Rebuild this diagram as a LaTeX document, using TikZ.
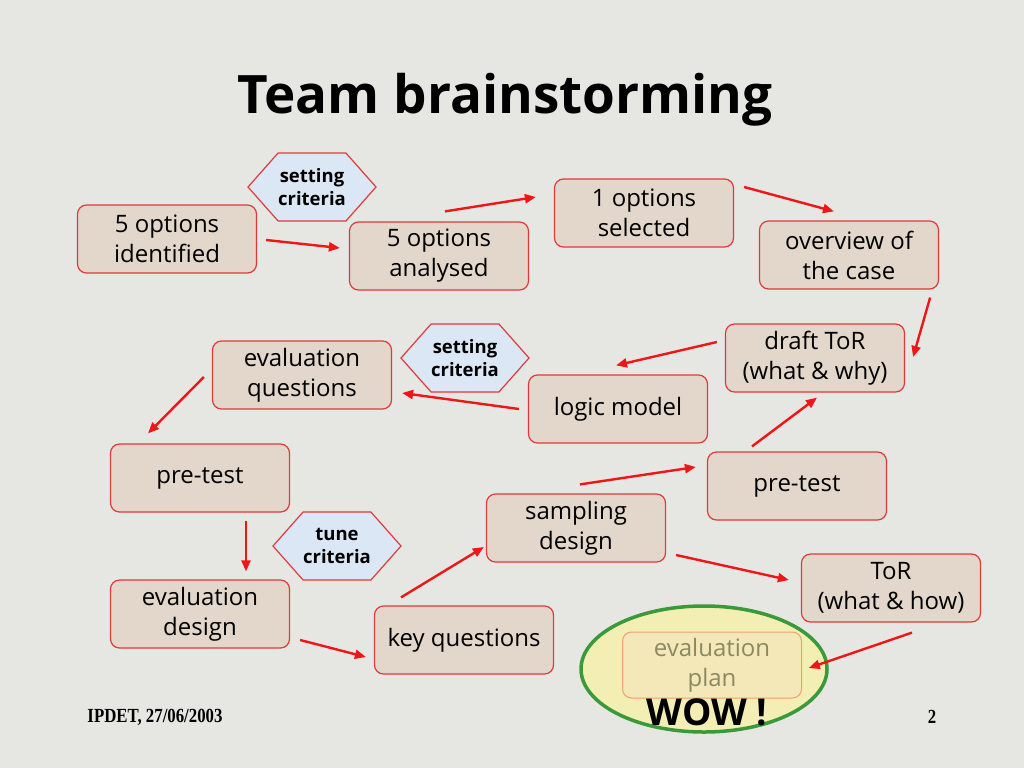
\documentclass[tikz,border=0pt]{standalone}
\usepackage{fontspec}
\setmainfont{Open Sans}
\newfontfamily\footfont{Liberation Serif}
\usetikzlibrary{arrows.meta,calc,shapes.symbols,shapes.geometric}
\definecolor{bg}{HTML}{E6E6E2}
\definecolor{boxline}{HTML}{E03A3A}
\definecolor{boxfill}{HTML}{E2D7CA}
\definecolor{hexfill}{HTML}{DCE7F6}
\definecolor{arrred}{HTML}{EE1616}
\definecolor{ellgreen}{HTML}{3A9A3A}
\definecolor{ellfill}{HTML}{F3EFB4}
\definecolor{planfill}{HTML}{F4E7B8}
\definecolor{planline}{HTML}{F0A070}
\definecolor{plantext}{HTML}{8A8A62}
\begin{document}
\begin{tikzpicture}[x=1pt,y=-1pt,
  box/.style={draw=boxline,fill=boxfill,line width=1.2pt,rounded corners=9pt,
    minimum width=179pt,minimum height=68pt,align=center,inner sep=2pt,
    font=\fontsize{24}{30}\selectfont},
  hexa/.style={signal,signal to=west and east,signal pointer angle=97,
    draw=boxline,fill=hexfill,line width=1.2pt,minimum width=128pt,
    minimum height=68pt,inner sep=0pt,align=center,
    font=\fontsize{18.5}{23}\selectfont\bfseries},
  arr/.style={draw=arrred,line width=2.4pt,-{Triangle[length=11pt,width=9pt]}}]
\fill[bg] (0,0) rectangle (1024,768);
\useasboundingbox (0,0) rectangle (1024,768);

\node[font=\fontsize{53}{58}\selectfont\bfseries] (title) at (505,100) {Team brainstorming};

% hexagons
\node[hexa] (h1) at (312,187) {setting\\criteria};
\node[hexa] (h2) at (465,358) {setting\\criteria};
\node[hexa] (h3) at (337,546) {tune\\criteria};

% boxes
\node[box] (n1) at (167,239) {5 options\\identified};
\node[box] (n2) at (439,256) {5 options\\analysed};
\node[box] (n3) at (644,213) {1 options\\selected};
\node[box] (n4) at (849,255) {overview of\\the case};
\node[box] (n5) at (815,358) {draft ToR\\(what \& why)};
\node[box] (n6) at (618,409) {logic model};
\node[box] (n7) at (302,375) {evaluation\\questions};
\node[box] (n8) at (200,478) {pre-test};
\node[box] (n9) at (797,486) {pre-test};
\node[box] (n10) at (576,528) {sampling\\design};
\node[box] (n11) at (200,614) {evaluation\\design};
\node[box] (n12) at (464,640) {key questions};
\node[box] (n13) at (891,588) {ToR\\(what \& how)};

% evaluation plan
\node[ellipse,draw=ellgreen,line width=3.5pt,fill=ellfill,minimum width=246pt,minimum height=126pt] (ell) at (704,669) {};
\node[box,draw=planline,fill=planfill,line width=1pt,text=plantext,minimum height=66pt] (plan) at (712,665) {evaluation\\plan};
\node[font=\fontsize{37}{40}\selectfont\bfseries] (wow) at (707,712) {WOW !};

% arrows
\draw[arr] ($(n1.east)+(9,1)$) -- ($(n2.west)+(-9,-8)$);
\draw[arr] ($(n2.north)+(6,-10)$) -- ($(n3.west)+(-18,-16)$);
\draw[arr] ($(n3.east)+(10,-26)$) -- ($(n4.north)+(-15,-9)$);
\draw[arr] ($(n4.south east)+(-9,8)$) -- ($(n5.east)+(8,-1)$);
\draw[arr] ($(n5.west)+(-8,-16)$) -- ($(n6.north)+(-2,-9)$);
\draw[arr] ($(n6.west)+(-9,0)$) -- ($(n7.east)+(10,18)$);
\draw[arr] ($(n7.west)+(-8,2)$) -- ($(n8.north)+(-52,-10)$);
\draw[arr] ($(n8.south)+(46,8)$) -- ($(n11.north)+(46,-8)$);
\draw[arr] ($(n11.east)+(10,26)$) -- ($(n12.west)+(-8,17)$);
\draw[arr] ($(n12.north)+(-63,-8)$) -- ($(n10.west)+(-2,19)$);
\draw[arr] ($(n10.north)+(4,-9)$) -- ($(n9.west)+(-11,-19)$);
\draw[arr] ($(n9.north)+(-45,-5)$) -- ($(n5.south)+(2,5)$);
\draw[arr] ($(n10.east)+(10,27)$) -- ($(n13.west)+(-12,-8)$);
\draw[arr] ($(n13.south)+(21,10)$) -- ($(ell.east)+(-20,-1)$);

% footer
\node[font=\footfont\bfseries\fontsize{20}{22}\selectfont] (foot) at (155,717) {\scalebox{0.84}[1]{IPDET, 27/06/2003}};
\node[font=\footfont\bfseries\fontsize{20}{22}\selectfont] (page) at (932,717) {\scalebox{0.84}[1]{2}};
\end{tikzpicture}
\end{document}
